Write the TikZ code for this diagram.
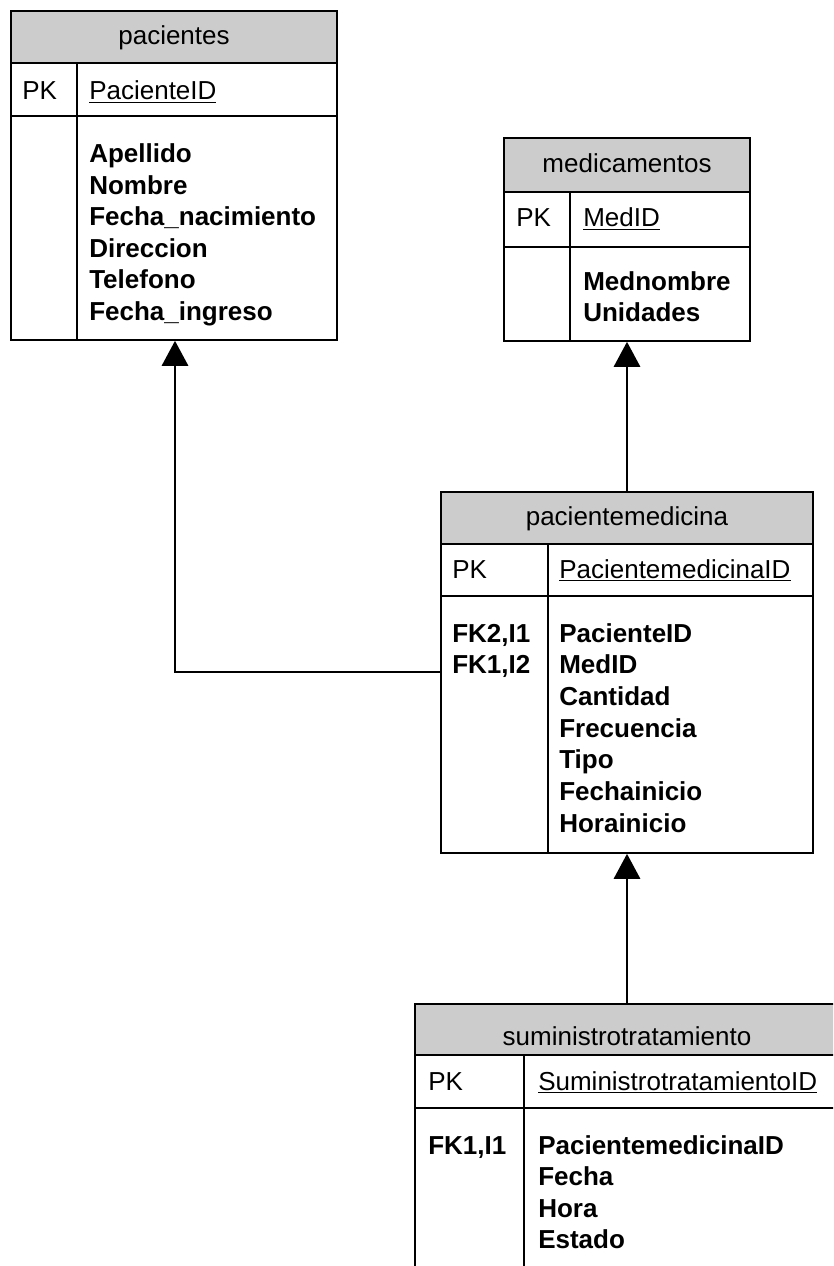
\documentclass[tikz,border=0pt]{standalone}
\usepackage{fontspec}
\setmainfont{Liberation Sans}
\usetikzlibrary{arrows.meta,fit}
\begin{document}
\begin{tikzpicture}[x=0.75pt,y=-0.75pt,
  tbl/.style={draw, line width=1.2pt, inner sep=0pt},
  hdr/.style={fill=gray!40},
  sep/.style={line width=1.2pt},
  fnt/.style={font=\fontsize{19.5pt}{23.6pt}\selectfont},
  txt/.style={fnt, anchor=base west, inner sep=0pt},
  attr/.style={txt, font=\fontsize{19.5pt}{23.6pt}\selectfont\bfseries},
  title/.style={fnt, anchor=base, inner sep=0pt},
  conn/.style={line width=2.2pt},
  fk/.style={conn, -{Triangle[length=18.75pt,width=19.5pt]}}
]
\clip (0,0) rectangle (833,1266);

% ---------- pacientes ----------
\fill[hdr] (11,11) rectangle (337,63);
\node[tbl, fit={(11,11)(337,340)}] (pacientes) {};
\draw[sep] (11,63) -- (337,63) (11,116) -- (337,116) (77,116) -- (77,340) (77,63) -- (77,116);
\node[title] (pac-t) at (174,45) {pacientes};
\node[txt] (pac-pk) at (22,100) {PK};
\node[txt] (pac-id) at (89,100) {\underline{PacienteID}};
\foreach \t [count=\i from 0] in {Apellido,Nombre,Fecha\_nacimiento,Direccion,Telefono,Fecha\_ingreso}
  \node[attr] (pac-a\i) at (89,163+31.4*\i) {\t};

% ---------- medicamentos ----------
\fill[hdr] (504,138) rectangle (750,192);
\node[tbl, fit={(504,138)(750,341)}] (medic) {};
\draw[sep] (504,192) -- (750,192) (504,247) -- (750,247) (570,192) -- (570,341);
\node[title] (med-t) at (627,173) {medicamentos};
\node[txt] (med-pk) at (516,227) {PK};
\node[txt] (med-id) at (583,227) {\underline{MedID}};
\foreach \t [count=\i from 0] in {Mednombre,Unidades}
  \node[attr] (med-a\i) at (583,290+31.4*\i) {\t};

% ---------- pacientemedicina ----------
\fill[hdr] (441,492) rectangle (813,544);
\node[tbl, fit={(441,492)(813,853)}] (pmed) {};
\draw[sep] (441,544) -- (813,544) (441,596) -- (813,596) (548,544) -- (548,853);
\node[title] (pm-t) at (627,525) {pacientemedicina};
\node[txt] (pm-pk) at (452,578) {PK};
\node[txt] (pm-id) at (559,578) {\underline{PacientemedicinaID}};
\node[attr] (pm-k0) at (452,642) {FK2,I1};
\node[attr] (pm-k1) at (452,673.7) {FK1,I2};
\foreach \t [count=\i from 0] in {PacienteID,MedID,Cantidad,Frecuencia,Tipo,Fechainicio,Horainicio}
  \node[attr] (pm-a\i) at (559,642+31.7*\i) {\t};

% ---------- suministrotratamiento ----------
\fill[hdr] (415,1004) rectangle (839,1055);
\node[tbl, fit={(415,1004)(839,1300)}] (sumin) {};
\draw[sep] (415,1055) -- (839,1055) (415,1108) -- (839,1108) (524,1055) -- (524,1300);
\node[title] (su-t) at (627,1045) {suministrotratamiento};
\node[txt] (su-pk) at (428,1090) {PK};
\node[txt] (su-id) at (538,1090) {\underline{SuministrotratamientoID}};
\node[attr] (su-k0) at (428,1154) {FK1,I1};
\foreach \t [count=\i from 0] in {PacientemedicinaID,Fecha,Hora,Estado}
  \node[attr] (su-a\i) at (538,1154+31.6*\i) {\t};

% ---------- relationships ----------
\coordinate (bend) at (175,672);
\draw[fk] (pmed.west |- bend) -- (bend) -- (pacientes.south -| bend);
\draw[fk] (pmed.north) -- (medic.south);
\draw[fk] (sumin.north) -- (pmed.south);
\end{tikzpicture}
\end{document}
